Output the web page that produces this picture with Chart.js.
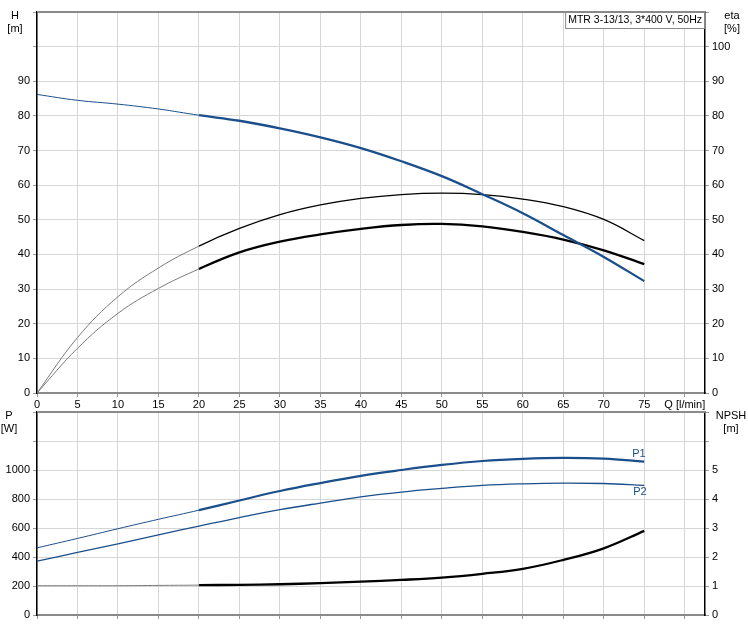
<!DOCTYPE html>
<html><head><meta charset="utf-8">
<script src="https://cdn.jsdelivr.net/npm/chart.js@4/dist/chart.umd.min.js"></script>
<style>
html,body{margin:0;padding:0;background:#fff;}
#wrap{position:relative;width:748px;height:629px;}
canvas{position:absolute;left:0;}
#c1{top:0;}
#c2{top:400px;}
</style></head>
<body>
<div id="wrap"><canvas id="c1" width="748" height="410"></canvas><canvas id="c2" width="748" height="229"></canvas></div>
<script>
// ---- data ----
const Q        = [0, 5, 10, 15, 20, 25, 30, 35, 40, 45, 50, 55, 60, 65, 70, 75];
const H        = [86.2, 84.5, 83.4, 82.0, 80.2, 78.6, 76.4, 73.8, 70.7, 66.9, 62.6, 57.4, 51.9, 45.6, 39.3, 32.3];
const etaPump  = [0, 16.0, 27.8, 36.1, 42.4, 47.5, 51.5, 54.3, 56.2, 57.3, 57.7, 57.3, 56.0, 53.8, 50.1, 44.0];
const etaTotal = [0, 12.9, 23.0, 30.2, 35.8, 40.6, 43.7, 45.8, 47.4, 48.5, 48.8, 48.1, 46.5, 44.3, 41.2, 37.2];
const P1       = [463, 528, 595, 660, 723, 790, 855, 910, 960, 1000, 1035, 1062, 1077, 1083, 1078, 1058];
const P2       = [371, 432, 491, 553, 613, 672, 726, 772, 815, 848, 873, 894, 905, 910, 907, 894];
const NPSH     = [1.01, 1.01, 1.01, 1.02, 1.03, 1.04, 1.06, 1.10, 1.15, 1.21, 1.29, 1.42, 1.59, 1.90, 2.30, 2.90];
const qTicks   = [0, 5, 10, 15, 20, 25, 30, 35, 40, 45, 50, 55, 60, 65, 70, 75, 80];
const hTicks   = [0, 10, 20, 30, 40, 50, 60, 70, 80, 90, 100, 110];
const pTicks   = [0, 200, 400, 600, 800, 1000, 1200, 1400];
const nTicks   = [0, 1, 2, 3, 4, 5, 6, 7];
const title    = 'MTR 3-13/13, 3*400 V, 50Hz';

Chart.defaults.font.family = '"Liberation Sans", Arial, sans-serif';
Chart.defaults.font.size = 11;
Chart.defaults.color = '#000';

const BLUE = '#1b4f8c';
const GRID = '#d6d6d6';
const pts = arr => Q.map((q, i) => ({x: q, y: arr[i]}));
const seg = (thinW, thickW, thinC, thickC) => ({
  borderWidth: c => c.p0.parsed.x >= 20 ? thickW : thinW,
  borderColor: c => c.p0.parsed.x >= 20 ? thickC : thinC
});
const setTicks = arr => s => { s.ticks = arr.map(v => ({value: v})); };
const line = (data, axis, s) => ({data, yAxisID: axis, borderColor: s.borderColor({p0:{parsed:{x:30}}}),
  segment: s, pointRadius: 0, tension: 0.4, fill: false});

function xScale(labels, h) {
  return {type: 'linear', min: 0, max: 82.5,
    afterBuildTicks: setTicks(qTicks),
    afterFit: s => { s.height = h; },
    ticks: {display: labels, maxRotation: 0, autoSkip: false, padding: 1,
      callback: v => v === 80 ? 'Q [l/min]' : String(v)},
    grid: {color: GRID, tickLength: 4, tickColor: '#999', lineWidth: 1},
    border: {color: '#8a8a8a', width: 2}};
}
function yScale(pos, max, ticks, showMax, w, grid) {
  return {type: 'linear', position: pos, min: 0, max: max,
    afterBuildTicks: setTicks(ticks),
    afterFit: s => { s.width = w; },
    ticks: {padding: 3, autoSkip: false, callback: v => v <= showMax ? String(v) : ''},
    grid: {color: GRID, drawOnChartArea: grid, tickLength: 4, tickColor: '#999'},
    border: {color: '#000', width: 1.5}};
}
function deco(texts, box) {
  return {id: 'deco', afterDraw(chart) {
    const ctx = chart.ctx, a = chart.chartArea;
    ctx.save();
    ctx.strokeStyle = '#8a8a8a'; ctx.lineWidth = 2;
    ctx.beginPath(); ctx.moveTo(a.left, a.top); ctx.lineTo(a.right, a.top); ctx.stroke();
    ctx.font = '11px "Liberation Sans", Arial, sans-serif';
    ctx.textAlign = 'center'; ctx.textBaseline = 'middle';
    texts.forEach(t => { ctx.fillStyle = t[3] || '#000'; ctx.fillText(t[0], t[1], t[2]); });
    if (box) {
      ctx.font = '10.5px "Liberation Sans", Arial, sans-serif';
      const w = ctx.measureText(box).width + 6;
      ctx.fillStyle = '#fff'; ctx.fillRect(a.right - w, a.top, w, 16);
      ctx.strokeStyle = '#888'; ctx.lineWidth = 1;
      ctx.strokeRect(a.right - w + 0.5, a.top + 0.5, w - 1, 16);
      ctx.fillStyle = '#000'; ctx.textAlign = 'left';
      ctx.fillText(box, a.right - w + 3, a.top + 8.5);
    }
    ctx.restore();
  }};
}

new Chart(document.getElementById('c1'), {
  type: 'line',
  data: {datasets: [
    line(pts(H), 'y', seg(1, 2.3, BLUE, BLUE)),
    line(pts(etaPump), 'y2', seg(1, 1.3, '#7a7a7a', '#000')),
    line(pts(etaTotal), 'y2', seg(1, 2.3, '#7a7a7a', '#000'))
  ]},
  options: {responsive: false, animation: false, events: [],
    layout: {padding: {top: 12, left: 0, right: 0, bottom: 0}},
    plugins: {legend: {display: false}, tooltip: {enabled: false}},
    scales: {
      x: xScale(true, 17),
      y: yScale('left', 110, hTicks, 90, 37, true),
      y2: yScale('right', 110, hTicks, 100, 43, false)
    }},
  plugins: [deco([['H', 15, 16], ['[m]', 15, 29], ['eta', 732, 16], ['[%]', 732, 29]], title)]
});

new Chart(document.getElementById('c2'), {
  type: 'line',
  data: {datasets: [
    line(pts(P1), 'y', seg(1, 2.2, BLUE, BLUE)),
    line(pts(P2), 'y', seg(1.3, 1.3, BLUE, BLUE)),
    line(pts(NPSH), 'y2', seg(1, 2.3, '#7a7a7a', '#000'))
  ]},
  options: {responsive: false, animation: false, events: [],
    layout: {padding: {top: 12, left: 0, right: 0, bottom: 0}},
    plugins: {legend: {display: false}, tooltip: {enabled: false}},
    scales: {
      x: xScale(false, 14),
      y: yScale('left', 1400, pTicks, 1000, 37, true),
      y2: yScale('right', 7, nTicks, 5, 43, false)
    }},
  plugins: [deco([['P', 9, 16], ['[W]', 9, 29], ['NPSH', 731, 16], ['[m]', 731, 29],
                  ['P1', 639, 54, BLUE], ['P2', 640, 92, BLUE]], null)]
});
</script>
</body></html>
